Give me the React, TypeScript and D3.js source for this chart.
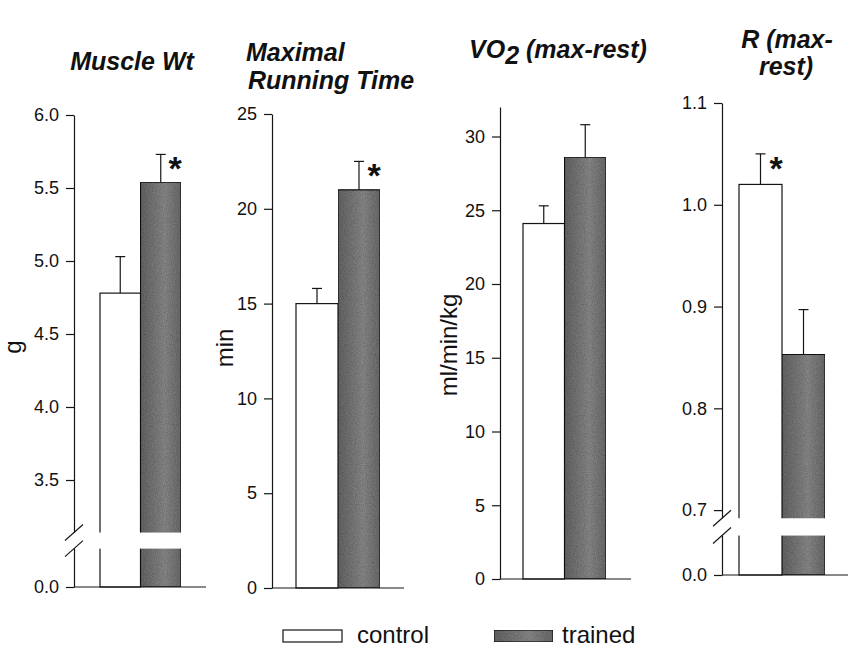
import React, { useRef, useEffect } from 'react';
import * as d3 from 'd3';

// groups shown in every panel
const groups = ['control', 'trained'];

// Muscle Wt (g)
const muscleMeans = [4.78, 5.54];
const muscleErrs = [0.25, 0.19];
const muscleSig = [false, true];
const muscleTicks = [0.0, 3.5, 4.0, 4.5, 5.0, 5.5, 6.0];

// Maximal Running Time (min)
const runMeans = [15.0, 21.0];
const runErrs = [0.8, 1.5];
const runSig = [false, true];
const runTicks = [0, 5, 10, 15, 20, 25];

// VO2 (max-rest), ml/min/kg
const vo2Means = [24.1, 28.6];
const vo2Errs = [1.2, 2.2];
const vo2Sig = [false, false];
const vo2Ticks = [0, 5, 10, 15, 20, 25, 30];

// R (max-rest)
const rMeans = [1.02, 0.853];
const rErrs = [0.03, 0.044];
const rSig = [true, false];
const rTicks = [0.0, 0.7, 0.8, 0.9, 1.0, 1.1];

const FONT = '"Liberation Sans", Arial, sans-serif';

function App() {
  const svgRef = useRef<SVGSVGElement>(null);

  useEffect(() => {
    const svg = d3.select(svgRef.current);
    svg.selectAll('*').remove();
    const defs = svg.append('defs');

    // fill for trained bars
    const grad = defs.append('linearGradient')
      .attr('id', 'trainedFill')
      .attr('x1', '0%').attr('y1', '0%').attr('x2', '100%').attr('y2', '0%');
    grad.selectAll('stop')
      .data([
        { offset: '0%', color: '#646464' },
        { offset: '45%', color: '#7e7e7e' },
        { offset: '60%', color: '#878787' },
        { offset: '100%', color: '#6a6a6a' },
      ])
      .enter().append('stop')
      .attr('offset', d => d.offset)
      .attr('stop-color', d => d.color);

    // scanned-print grain
    const filt = defs.append('filter').attr('id', 'grain')
      .attr('x', 0).attr('y', 0).attr('width', 1).attr('height', 1);
    filt.append('feTurbulence').attr('type', 'fractalNoise').attr('baseFrequency', 0.9)
      .attr('numOctaves', 2).attr('seed', 4).attr('result', 'noise');
    filt.append('feColorMatrix').attr('in', 'noise').attr('type', 'matrix')
      .attr('values', '0 0 0 0 0  0 0 0 0 0  0 0 0 0 0  0 0 0 0.7 -0.22').attr('result', 'dots');
    filt.append('feComposite').attr('in', 'dots').attr('in2', 'SourceGraphic')
      .attr('operator', 'in').attr('result', 'clipped');
    const merge = filt.append('feMerge');
    merge.append('feMergeNode').attr('in', 'SourceGraphic');
    merge.append('feMergeNode').attr('in', 'clipped');

    const panels = [
      {
        means: muscleMeans, errs: muscleErrs, sig: muscleSig, ticks: muscleTicks, fmt: d3.format('.1f'),
        axisX: 74, barL: 100, barR: 181, xEnd: 206,
        yDomain: [0, 3.0, 6.0], yRange: [587, 553, 115], gap: [3.03, 3.14],
      },
      {
        means: runMeans, errs: runErrs, sig: runSig, ticks: runTicks, fmt: d3.format('d'),
        axisX: 272, barL: 296, barR: 380, xEnd: 404,
        yDomain: [0, 25], yRange: [588, 114], gap: null,
      },
      {
        means: vo2Means, errs: vo2Errs, sig: vo2Sig, ticks: vo2Ticks, fmt: d3.format('d'),
        axisX: 500, barL: 523, barR: 606, xEnd: 631,
        yDomain: [0, 32], yRange: [579, 107], gap: null,
      },
      {
        means: rMeans, errs: rErrs, sig: rSig, ticks: rTicks, fmt: d3.format('.1f'),
        axisX: 722, barL: 739, barR: 825, xEnd: 848,
        yDomain: [0, 0.65, 1.1], yRange: [575, 561, 103], gap: [0.675, 0.692],
      },
    ];

    panels.forEach(p => {
      const g = svg.append('g');
      const x = d3.scaleBand().domain(groups).range([p.barL, p.barR]).paddingInner(0);
      const y = d3.scaleLinear().domain(p.yDomain).range(p.yRange);
      const data = groups.map((grp, i) => ({ group: grp, mean: p.means[i], err: p.errs[i], sig: p.sig[i], i }));
      const cx = d => x(d.group) + x.bandwidth() / 2;

      // bars
      g.selectAll('.bar')
        .data(data)
        .enter().append('rect')
        .attr('class', 'bar')
        .attr('x', d => x(d.group))
        .attr('y', d => y(d.mean))
        .attr('width', x.bandwidth())
        .attr('height', d => y(0) - y(d.mean))
        .attr('fill', d => d.i === 0 ? '#ffffff' : 'url(#trainedFill)')
        .attr('filter', d => d.i === 0 ? null : 'url(#grain)')
        .attr('stroke', '#151515')
        .attr('stroke-width', 1.2);

      // error bars (upper only)
      g.selectAll('.err')
        .data(data)
        .enter().append('line')
        .attr('x1', cx).attr('x2', cx)
        .attr('y1', d => y(d.mean)).attr('y2', d => y(d.mean + d.err))
        .attr('stroke', '#151515').attr('stroke-width', 1.2);
      g.selectAll('.cap')
        .data(data)
        .enter().append('line')
        .attr('x1', d => cx(d) - 5).attr('x2', d => cx(d) + 5)
        .attr('y1', d => y(d.mean + d.err)).attr('y2', d => y(d.mean + d.err))
        .attr('stroke', '#151515').attr('stroke-width', 1.2);

      // y axis
      const axis = d3.axisLeft(y).tickValues(p.ticks).tickSize(8).tickSizeOuter(0).tickPadding(7).tickFormat(p.fmt);
      const ax = g.append('g').attr('transform', `translate(${p.axisX},0)`).call(axis);
      ax.selectAll('path, line').attr('stroke', '#151515').attr('stroke-width', 1.2);
      ax.selectAll('text').attr('font-family', FONT).attr('font-size', 18).attr('fill', '#111');

      // x axis line
      g.append('line')
        .attr('x1', p.axisX).attr('x2', p.xEnd)
        .attr('y1', y(0)).attr('y2', y(0))
        .attr('stroke', '#151515').attr('stroke-width', 1.2);

      // axis break
      if (p.gap) {
        const [lo, hi] = p.gap;
        g.append('rect')
          .attr('x', p.axisX - 3)
          .attr('y', y(hi))
          .attr('width', p.barR - p.axisX + 5)
          .attr('height', y(lo) - y(hi))
          .attr('fill', '#ffffff');
        [y(hi), y(lo)].forEach(yy => {
          g.append('line')
            .attr('x1', p.axisX - 9).attr('y1', yy + 8)
            .attr('x2', p.axisX + 9).attr('y2', yy - 8)
            .attr('stroke', '#151515').attr('stroke-width', 1.2);
        });
      }

      // significance markers
      g.selectAll('.sig')
        .data(data.filter(d => d.sig))
        .enter().append('text')
        .attr('x', d => x(d.group) + x.bandwidth() - 6)
        .attr('y', d => y(d.mean + d.err) + 26)
        .attr('text-anchor', 'middle')
        .attr('font-family', FONT)
        .attr('font-weight', 'bold')
        .attr('font-size', 34)
        .attr('fill', '#111')
        .text('*');
    });

    // titles
    const title = (sel) => sel
      .attr('font-family', FONT).attr('font-weight', 'bold').attr('font-style', 'italic')
      .attr('font-size', 25).attr('fill', '#111');

    svg.append('text').attr('x', 132).attr('y', 70).attr('text-anchor', 'middle').call(title).text('Muscle Wt');
    svg.append('text').attr('x', 246).attr('y', 61).call(title).text('Maximal');
    svg.append('text').attr('x', 248).attr('y', 89).call(title).text('Running Time');
    const vo2 = svg.append('text').attr('x', 558).attr('y', 58).attr('text-anchor', 'middle').call(title);
    vo2.append('tspan').text('VO');
    vo2.append('tspan').attr('dy', 6).text('2');
    vo2.append('tspan').attr('dy', -6).text(' (max-rest)');
    svg.append('text').attr('x', 787).attr('y', 48).attr('text-anchor', 'middle').call(title).text('R (max-');
    svg.append('text').attr('x', 786).attr('y', 75).attr('text-anchor', 'middle').call(title).text('rest)');

    // y axis labels
    const yLabels = [
      { text: 'g', x: 21, y: 347 },
      { text: 'min', x: 233, y: 348 },
      { text: 'ml/min/kg', x: 457, y: 345 },
    ];
    yLabels.forEach(l => {
      svg.append('text')
        .attr('transform', `translate(${l.x},${l.y}) rotate(-90)`)
        .attr('text-anchor', 'middle')
        .attr('font-family', FONT).attr('font-size', 24).attr('fill', '#111')
        .text(l.text);
    });

    // legend
    const legend = [
      { label: 'control', fill: '#ffffff', rx: 283, tx: 357, grain: false },
      { label: 'trained', fill: 'url(#trainedFill)', rx: 494, tx: 562, grain: true },
    ];
    legend.forEach(l => {
      svg.append('rect')
        .attr('x', l.rx).attr('y', 630).attr('width', 59).attr('height', 12)
        .attr('fill', l.fill).attr('filter', l.grain ? 'url(#grain)' : null)
        .attr('stroke', '#151515').attr('stroke-width', 1.2);
      svg.append('text')
        .attr('x', l.tx).attr('y', 643)
        .attr('font-family', FONT).attr('font-size', 24).attr('fill', '#111')
        .text(l.label);
    });
  }, []);

  return (
    <svg
      ref={svgRef}
      width={849}
      height={648}
      style={{ position: 'absolute', left: 0, top: 0, background: '#fff' }}
    />
  );
}

export default App;
